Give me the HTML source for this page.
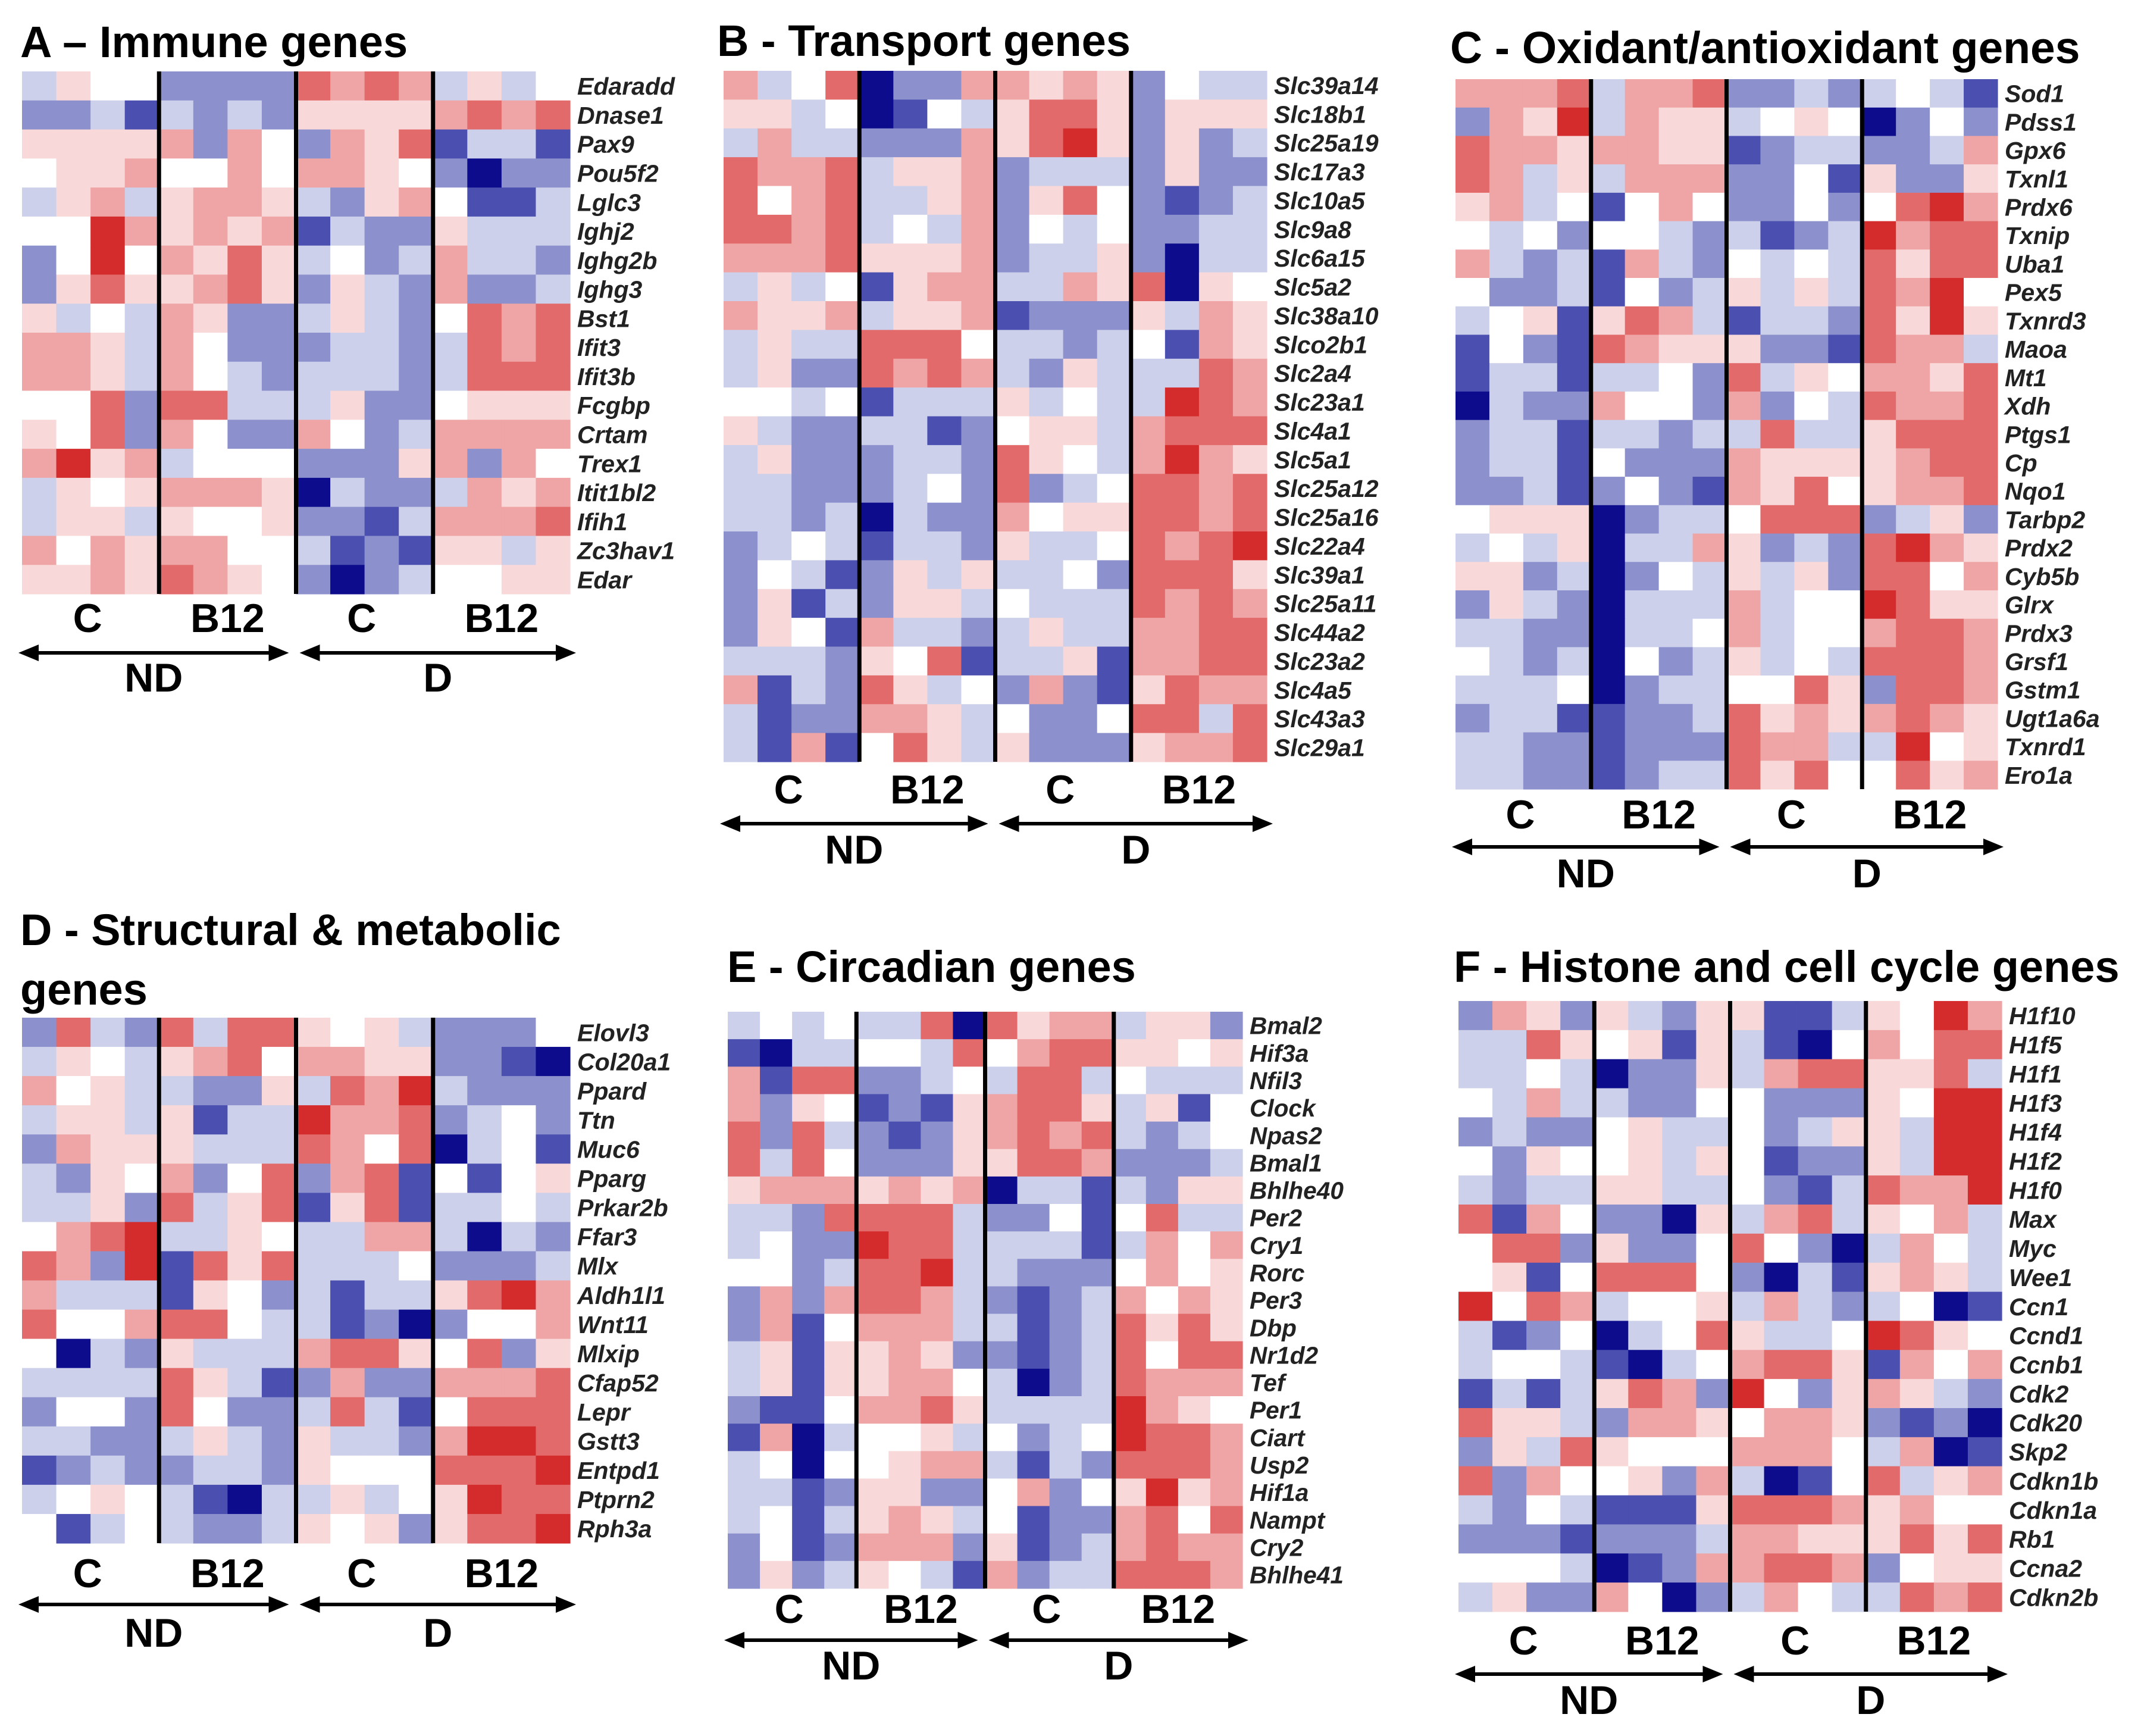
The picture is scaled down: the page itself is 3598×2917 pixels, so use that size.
<!DOCTYPE html>
<html><head><meta charset="utf-8"><style>
html,body{margin:0;padding:0;background:#fff;}
svg{display:block;}
</style></head><body>
<svg id="fig" xmlns="http://www.w3.org/2000/svg" width="3598" height="2917" viewBox="0 0 3598 2917"></svg>
<script>
const genesA=["Edaradd","Dnase1","Pax9","Pou5f2","Lglc3","Ighj2","Ighg2b","Ighg3","Bst1","Ifit3","Ifit3b","Fcgbp","Crtam","Trex1","Itit1bl2","Ifih1","Zc3hav1","Edar"];
const valsA=["3544222276763534","2231323255556767","5555626426571331","4556446466542022","3563566532564113","4486565613225333","2484657534236332","2575567525326223","5343652235324767","6653642223323767","6653643233323777","4472773335224555","5472642264236666","6856344422256264","3545666503223656","3553544522136667","6465664431215535","5565765420234455"];
const genesB=["Slc39a14","Slc18b1","Slc25a19","Slc17a3","Slc10a5","Slc9a8","Slc6a15","Slc5a2","Slc38a10","Slco2b1","Slc2a4","Slc23a1","Slc4a1","Slc5a1","Slc25a12","Slc25a16","Slc22a4","Slc39a1","Slc25a11","Slc44a2","Slc23a2","Slc4a5","Slc43a3","Slc29a1"];
const valsB=["6347022665652433","5534014357752555","3633222657852523","7667355623332522","7467335625742123","7767343624342233","6667555623352033","3534156633657054","6556355612225365","3533777433234165","3522767632533376","4434133353433876","5322331245536777","3522233275436865","3322234272347767","3323032264557767","2343133253347678","2431253533427775","2513255343337676","2541633235336677","3332547133516677","6132753426215766","3122665342247737","3161475352225667"];
const genesC=["Sod1","Pdss1","Gpx6","Txnl1","Prdx6","Txnip","Uba1","Pex5","Txnrd3","Maoa","Mt1","Xdh","Ptgs1","Cp","Nqo1","Tarbp2","Prdx2","Cyb5b","Glrx","Prdx3","Grsf1","Gstm1","Ugt1a6a","Txnrd1","Ero1a"];
const valsC=["6667366722323431","2658365534540242","7665665512332236","7635366622415225","5634146422424786","4342443231238677","6323163243437577","4223142353537684","3451576313327585","1421765552217663","1331334273546657","0322644262437667","2331332337335777","2331422265555677","2231242165745667","4555023347772352","3435033652327865","5523024353527746","2532033363448755","3322033463446776","4323042353437776","3334023344752776","2331122375656765","3322122276633845","3322123375744756"];
const genesD=["Elovl3","Col20a1","Ppard","Ttn","Muc6","Pparg","Prkar2b","Ffar3","Mlx","Aldh1l1","Wnt11","Mlxip","Cfap52","Lepr","Gstt3","Entpd1","Ptprn2","Rph3a"];
const valsD=["2732737754532224","3543567466552210","6453322537683222","3553513386672342","2655533376470341","3254624726714145","3352735715713343","4678335433663032","7628175733342223","6333154231335786","7446774331202446","4032533367754725","3333753126226667","2442742237314777","3322353253326887","1232233254447778","3454310335345877","4134322354525778"];
const genesE=["Bmal2","Hif3a","Nfil3","Clock","Npas2","Bmal1","Bhlhe40","Per2","Cry1","Rorc","Per3","Dbp","Nr1d2","Tef","Per1","Ciart","Usp2","Hif1a","Nampt","Cry2","Bhlhe41"];
const valsE=["3434337075663552","1033443746775545","6177223437734333","6254121567753514","7273212567673234","7374222557762223","5666565603313255","3327777322414733","3422877333313646","4423778332224645","2626776321236465","2614666331237575","3515565221237477","3515566430237666","2114667533338654","1603445342348776","3404456631327776","3312552246245856","3413565341226747","2412666251236766","2523543162337776"];
const genesF=["H1f10","H1f5","H1f1","H1f3","H1f4","H1f2","H1f0","Max","Myc","Wee1","Ccn1","Ccnd1","Ccnb1","Cdk2","Cdk20","Skp2","Cdkn1b","Cdkn1a","Rb1","Ccna2","Cdkn2b"];
const valsF=["2652532551135486","3375451531046477","3343022536775573","4363322442225488","2322453342355388","4254453541225388","3233553342137668","7164220536735463","4772522474203643","4514777420315653","8476344536323401","3124034753348754","3443103467751646","1313576284256532","7553266546652120","2537544466643601","7264452630147356","3243111577765644","2221222366555757","4443012667762455","3522640236433767"];
const groupLabels=["C","B12","C","B12"];
const dietLabels=["ND","D"];

const palette=["#0c0c8c","#4a4fb0","#8c91cd","#ccd0ea","#ffffff","#f8d8d8","#efa5a5","#e26a6a","#d42c2c"];
const NS="http://www.w3.org/2000/svg";
const svg=document.getElementById("fig");
function mk(tag,attrs,parent){const e=document.createElementNS(NS,tag);for(const k in attrs)e.setAttribute(k,attrs[k]);(parent||svg).appendChild(e);return e;}

const panels=[
 {id:"a",title:["A \u2013 Immune genes"],tx:34,ty:[96],tf:74,genes:genesA,vals:valsA,x0:37,x1:958,y0:120,y1:998,ly:1062,ay:1097,dy:1162},
 {id:"b",title:["B - Transport genes"],tx:1205,ty:[94],tf:74,genes:genesB,vals:valsB,x0:1216,x1:2129,y0:119,y1:1280,ly:1350,ay:1384,dy:1451},
 {id:"c",title:["C - Oxidant/antioxidant genes"],tx:2437,ty:[106],tf:75,genes:genesC,vals:valsC,x0:2446,x1:3357,y0:133,y1:1326,ly:1392,ay:1423,dy:1491},
 {id:"d",title:["D - Structural & metabolic","genes"],tx:34,ty:[1588,1688],tf:74,genes:genesD,vals:valsD,x0:37,x1:958,y0:1710,y1:2593,ly:2667,ay:2696,dy:2767},
 {id:"e",title:["E - Circadian genes"],tx:1222,ty:[1650],tf:74,genes:genesE,vals:valsE,x0:1223,x1:2088,y0:1700,y1:2669,ly:2727,ay:2756,dy:2822},
 {id:"f",title:["F - Histone and cell cycle genes"],tx:2443,ty:[1650],tf:74,genes:genesF,vals:valsF,x0:2451,x1:3364,y0:1682,y1:2708,ly:2780,ay:2813,dy:2880}
];

panels.forEach(p=>{
  const g=mk("g",{});
  
  
  p.title.forEach((t,i)=>{
    const tt=mk("text",{x:p.tx,y:p.ty[i],"font-family":"Liberation Sans, sans-serif","font-weight":"bold","font-size":p.tf,fill:"#000"},g);
    tt.textContent=t;
    
    
  });
  const nr=p.genes.length, nc=16;
  const cw=(p.x1-p.x0)/nc, rh=(p.y1-p.y0)/nr;
  const xs=c=>p.x0+c*cw, ys=r=>p.y0+r*rh;
  for(let r=0;r<nr;r++){
    const row=p.vals[r];
    for(let c=0;c<nc;c++){
      const v=+row[c];
      const rect=mk("rect",{x:xs(c),y:ys(r),width:cw+0.6,height:rh+0.6,fill:palette[v]},g);
      
      
    }
    const fs=Math.min(rh*0.88,41);
    const lab=mk("text",{x:p.x1+12,y:ys(r)+rh/2+fs*0.36,"font-family":"Liberation Sans, sans-serif","font-weight":"bold","font-style":"italic","font-size":fs,fill:"#222"},g);
    lab.textContent=p.genes[r];
    
    
  }
  for(let k=1;k<4;k++){
    const ln=mk("line",{x1:xs(4*k),x2:xs(4*k),y1:p.y0,y2:p.y1,stroke:"#000","stroke-width":7},g);
    
    
  }
  groupLabels.forEach((t,k)=>{
    const gl=mk("text",{x:xs(4*k+2)+(k%2?0:-5),y:p.ly,"text-anchor":"middle","font-family":"Liberation Sans, sans-serif","font-weight":"bold","font-size":68,fill:"#000"},g);
    gl.textContent=t;
    
    
  });
  const spans=[[p.x0-6,xs(8)-12],[xs(8)+6,p.x1+10]];
  spans.forEach((s,k)=>{
    const a=s[0],b=s[1],y=p.ay;
    const ln=mk("line",{x1:a+25,x2:b-25,y1:y,y2:y,stroke:"#000","stroke-width":6},g);
    
    
    const h1=mk("polygon",{points:`${a},${y} ${a+34},${y-14} ${a+34},${y+14}`,fill:"#000"},g);
    
    
    const h2=mk("polygon",{points:`${b},${y} ${b-34},${y-14} ${b-34},${y+14}`,fill:"#000"},g);
    
    
    const dl=mk("text",{x:(a+b)/2,y:p.dy,"text-anchor":"middle","font-family":"Liberation Sans, sans-serif","font-weight":"bold","font-size":68,fill:"#000"},g);
    dl.textContent=dietLabels[k];
    
    
  });
});
</script>
</body></html>
